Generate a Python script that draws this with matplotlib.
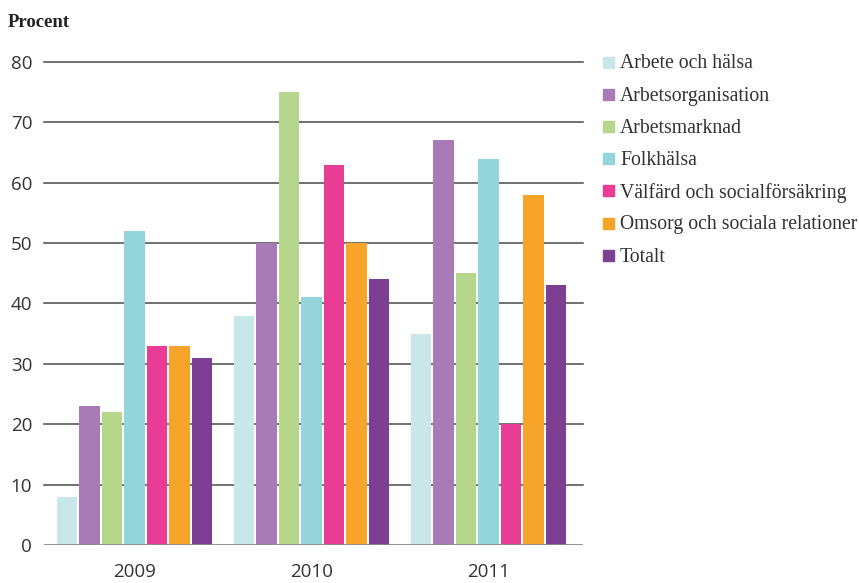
import matplotlib
matplotlib.use("Agg")
from matplotlib import pyplot as plt
from matplotlib.patches import Rectangle
import numpy as np

# data
years = ["2009", "2010", "2011"]
series = ["Arbete och hälsa", "Arbetsorganisation", "Arbetsmarknad", "Folkhälsa",
          "Välfärd och socialförsäkring", "Omsorg och sociala relationer", "Totalt"]
arbete_halsa = [8, 38, 35]
arbetsorg = [23, 50, 67]
arbetsmarknad = [22, 75, 45]
folkhalsa = [52, 41, 64]
valfard = [33, 63, 20]
omsorg = [33, 50, 58]
totalt = [31, 44, 43]
values = [arbete_halsa, arbetsorg, arbetsmarknad, folkhalsa, valfard, omsorg, totalt]
yticks = [0, 10, 20, 30, 40, 50, 60, 70, 80]

# figure params
colors = ["#c9e7e9", "#a87bb6", "#b5d68b", "#94d5dc", "#e93d95", "#f7a52a", "#7c3f93"]
grid_color = "#4a4a4a"
tick_font = "Open Sans"
label_font = "Liberation Serif"

fig = plt.figure(figsize=(8.59, 5.83), dpi=100)
ax = fig.add_axes([0.0512, 0.0652, 0.628, 0.8285])

x = np.arange(len(years))
n = len(series)
slot = 0.127
for i, (name, vals) in enumerate(zip(series, values)):
    offs = (i - (n - 1) / 2) * slot
    ax.bar(x + offs, vals, width=slot * 0.91, color=colors[i], linewidth=0,
           zorder=3, label=name)

ax.set_xlim(-0.51, 2.535)
ax.set_ylim(0, 80)
for t in yticks[1:]:
    ax.axhline(t, color=grid_color, lw=1.1, zorder=1, clip_on=False)
ax.axhline(0, color="#8a8a8a", lw=2, zorder=4)

for s in ax.spines.values():
    s.set_visible(False)
ax.set_yticks(yticks)
ax.set_yticklabels([str(t) for t in yticks], fontsize=13.5, family=tick_font, color="#333333")
ax.set_xticks(x)
ax.set_xticklabels(years, fontsize=13.5, family=tick_font, color="#333333")
ax.tick_params(axis="both", length=0)
ax.tick_params(axis="y", pad=8.5)
ax.tick_params(axis="x", pad=13)

fig.text(0.0093, 0.962, "Procent", fontsize=13.5, fontweight="bold", family=label_font,
         color="#222222", va="center")

# legend drawn by hand
for i, name in enumerate(series):
    yc = 1 - (62 + i * 32.2) / 583
    fig.patches.append(Rectangle((603 / 859, yc - 5.5 / 583), 11 / 859, 11 / 583,
                                 transform=fig.transFigure, color=colors[i]))
    fig.text(620 / 859, yc - 2 / 583, name, fontsize=14.2, family=label_font,
             color="#333333", va="center")

fig.savefig("out.png", dpi=100)
